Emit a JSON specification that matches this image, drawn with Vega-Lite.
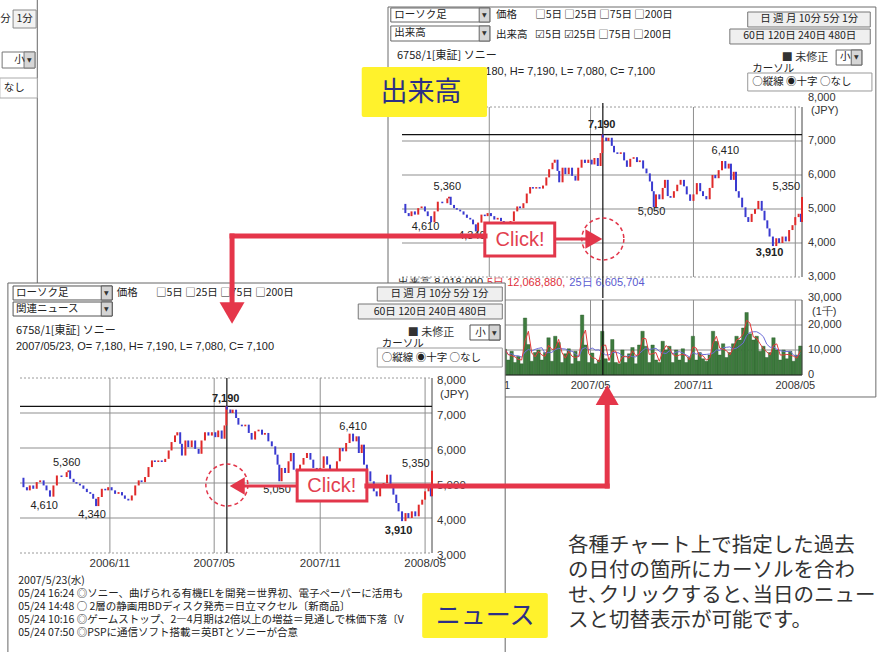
{
"$schema": "https://vega.github.io/schema/vega-lite/v6.json",
"width": 884, "height": 652, "autosize": "none", "padding": 0, "background": "#ffffff",
"config": {"view": {"stroke": null}, "font": "Liberation Sans"},
"datasets": {
 "price": [
  {"d":"2006-05-29","c":5150},{"d":"2006-06-04","c":4880},{"d":"2006-06-10","c":4790},{"d":"2006-06-15","c":4930},{"d":"2006-06-21","c":4835},{"d":"2006-06-27","c":5025},{"d":"2006-07-03","c":5075},{"d":"2006-07-09","c":4930},{"d":"2006-07-14","c":4790},{"d":"2006-07-20","c":4610},{"d":"2006-07-26","c":4930},{"d":"2006-08-01","c":5215},{"d":"2006-08-09","c":5170},{"d":"2006-08-18","c":5310},{"d":"2006-08-21","c":5360},{"d":"2006-08-24","c":5120},{"d":"2006-08-30","c":5025},{"d":"2006-09-04","c":4980},{"d":"2006-09-10","c":4930},{"d":"2006-09-16","c":4835},{"d":"2006-09-22","c":4740},{"d":"2006-09-28","c":4690},{"d":"2006-10-03","c":4550},{"d":"2006-10-08","c":4340},{"d":"2006-10-12","c":4600},{"d":"2006-10-18","c":4835},{"d":"2006-10-24","c":4790},{"d":"2006-10-29","c":4880},{"d":"2006-11-04","c":4790},{"d":"2006-11-10","c":4690},{"d":"2006-11-16","c":4740},{"d":"2006-11-22","c":4645},{"d":"2006-11-27","c":4550},{"d":"2006-12-03","c":4500},{"d":"2006-12-09","c":4645},{"d":"2006-12-15","c":4930},{"d":"2006-12-21","c":5075},{"d":"2006-12-26","c":5025},{"d":"2007-01-01","c":5170},{"d":"2007-01-07","c":5455},{"d":"2007-01-13","c":5645},{"d":"2007-01-18","c":5600},{"d":"2007-01-24","c":5645},{"d":"2007-01-30","c":5600},{"d":"2007-02-05","c":5690},{"d":"2007-02-11","c":5930},{"d":"2007-02-16","c":6170},{"d":"2007-02-22","c":6360},{"d":"2007-02-26","c":6450},{"d":"2007-03-03","c":6120},{"d":"2007-03-06","c":5785},{"d":"2007-03-12","c":6215},{"d":"2007-03-17","c":6025},{"d":"2007-03-23","c":6215},{"d":"2007-03-29","c":5975},{"d":"2007-04-04","c":5835},{"d":"2007-04-09","c":6215},{"d":"2007-04-15","c":6450},{"d":"2007-04-21","c":6355},{"d":"2007-04-27","c":6450},{"d":"2007-05-03","c":6310},{"d":"2007-05-08","c":6500},{"d":"2007-05-14","c":6265},{"d":"2007-05-19","c":6645},{"d":"2007-05-22","c":7190},{"d":"2007-05-23","c":7100},{"d":"2007-05-29","c":7000},{"d":"2007-06-02","c":7095},{"d":"2007-06-08","c":6857},{"d":"2007-06-12","c":6667},{"d":"2007-06-18","c":6620},{"d":"2007-06-24","c":6667},{"d":"2007-06-30","c":6430},{"d":"2007-07-05","c":6240},{"d":"2007-07-11","c":6476},{"d":"2007-07-17","c":6524},{"d":"2007-07-23","c":6380},{"d":"2007-07-28","c":6430},{"d":"2007-08-03","c":6190},{"d":"2007-08-09","c":6048},{"d":"2007-08-15","c":5810},{"d":"2007-08-19","c":5524},{"d":"2007-08-22","c":5050},{"d":"2007-08-26","c":5430},{"d":"2007-09-01","c":5286},{"d":"2007-09-07","c":5620},{"d":"2007-09-11","c":5857},{"d":"2007-09-16","c":5380},{"d":"2007-09-21","c":5330},{"d":"2007-09-27","c":5524},{"d":"2007-10-03","c":5714},{"d":"2007-10-09","c":5857},{"d":"2007-10-15","c":5667},{"d":"2007-10-20","c":5430},{"d":"2007-10-26","c":5240},{"d":"2007-11-01","c":5430},{"d":"2007-11-07","c":5762},{"d":"2007-11-13","c":5524},{"d":"2007-11-18","c":5380},{"d":"2007-11-24","c":5286},{"d":"2007-11-30","c":5620},{"d":"2007-12-05","c":6000},{"d":"2007-12-10","c":5905},{"d":"2007-12-16","c":6143},{"d":"2007-12-22","c":6410},{"d":"2007-12-28","c":6190},{"d":"2008-01-03","c":6333},{"d":"2008-01-07","c":5857},{"d":"2008-01-12","c":6095},{"d":"2008-01-16","c":5524},{"d":"2008-01-21","c":5333},{"d":"2008-01-27","c":5048},{"d":"2008-02-02","c":4762},{"d":"2008-02-07","c":4619},{"d":"2008-02-13","c":4857},{"d":"2008-02-19","c":5000},{"d":"2008-02-25","c":5238},{"d":"2008-03-02","c":4950},{"d":"2008-03-07","c":4667},{"d":"2008-03-12","c":4429},{"d":"2008-03-16","c":4190},{"d":"2008-03-22","c":3910},{"d":"2008-03-28","c":4140},{"d":"2008-04-02","c":4000},{"d":"2008-04-08","c":4190},{"d":"2008-04-14","c":4048},{"d":"2008-04-20","c":4381},{"d":"2008-04-26","c":4524},{"d":"2008-05-01","c":4762},{"d":"2008-05-07","c":4860},{"d":"2008-05-11","c":4619},{"d":"2008-05-13","c":5350}
 ],
 "peaks": [
  {"d":"2006-08-18","v":5360,"k":"high"},{"d":"2007-05-21","v":7190,"k":"max"},{"d":"2007-12-28","v":6410,"k":"high"},{"d":"2008-04-15","v":5350,"k":"high"},
  {"d":"2006-07-10","v":4610,"k":"low"},{"d":"2006-10-01","v":4340,"k":"low"},{"d":"2007-08-18","v":5050,"k":"low"},{"d":"2008-03-16","v":3910,"k":"min"}
 ],
 "vol": [
  {"d":"2006-11-29","v":10300},{"d":"2006-12-05","v":6000},{"d":"2006-12-11","v":9500},{"d":"2006-12-17","v":5000},{"d":"2006-12-23","v":7500},{"d":"2006-12-29","v":4500},{"d":"2007-01-04","v":22800},{"d":"2007-01-10","v":12200},{"d":"2007-01-16","v":5500},{"d":"2007-01-22","v":9000},{"d":"2007-01-28","v":10000},{"d":"2007-02-03","v":6000},{"d":"2007-02-09","v":9000},{"d":"2007-02-15","v":14900},{"d":"2007-02-21","v":5500},{"d":"2007-02-27","v":15500},{"d":"2007-03-05","v":13000},{"d":"2007-03-11","v":5000},{"d":"2007-03-17","v":8500},{"d":"2007-03-23","v":10500},{"d":"2007-03-29","v":4500},{"d":"2007-04-04","v":9500},{"d":"2007-04-10","v":5500},{"d":"2007-04-16","v":24000},{"d":"2007-04-22","v":12000},{"d":"2007-04-28","v":5000},{"d":"2007-05-04","v":8800},{"d":"2007-05-10","v":4500},{"d":"2007-05-16","v":6000},{"d":"2007-05-22","v":17500},{"d":"2007-05-28","v":6500},{"d":"2007-06-03","v":5000},{"d":"2007-06-09","v":14200},{"d":"2007-06-15","v":5000},{"d":"2007-06-21","v":4500},{"d":"2007-06-27","v":10000},{"d":"2007-07-03","v":5000},{"d":"2007-07-09","v":8500},{"d":"2007-07-15","v":11000},{"d":"2007-07-21","v":4500},{"d":"2007-07-27","v":12000},{"d":"2007-08-02","v":17500},{"d":"2007-08-08","v":11500},{"d":"2007-08-14","v":5000},{"d":"2007-08-20","v":12000},{"d":"2007-08-26","v":6000},{"d":"2007-09-01","v":5000},{"d":"2007-09-07","v":13500},{"d":"2007-09-13","v":10000},{"d":"2007-09-19","v":11500},{"d":"2007-09-25","v":5000},{"d":"2007-10-01","v":10000},{"d":"2007-10-07","v":6000},{"d":"2007-10-13","v":10500},{"d":"2007-10-19","v":5000},{"d":"2007-10-25","v":7000},{"d":"2007-10-31","v":15500},{"d":"2007-11-06","v":6000},{"d":"2007-11-12","v":9000},{"d":"2007-11-18","v":6500},{"d":"2007-11-24","v":5500},{"d":"2007-11-30","v":8000},{"d":"2007-12-06","v":17500},{"d":"2007-12-12","v":13500},{"d":"2007-12-18","v":8000},{"d":"2007-12-24","v":12500},{"d":"2007-12-30","v":7000},{"d":"2008-01-05","v":9000},{"d":"2008-01-11","v":12500},{"d":"2008-01-17","v":15500},{"d":"2008-01-23","v":14000},{"d":"2008-01-29","v":18800},{"d":"2008-02-04","v":25000},{"d":"2008-02-10","v":16500},{"d":"2008-02-16","v":14000},{"d":"2008-02-22","v":15500},{"d":"2008-02-28","v":9500},{"d":"2008-03-05","v":11500},{"d":"2008-03-11","v":7000},{"d":"2008-03-17","v":9000},{"d":"2008-03-23","v":14900},{"d":"2008-03-29","v":10000},{"d":"2008-04-04","v":6000},{"d":"2008-04-10","v":10000},{"d":"2008-04-16","v":6500},{"d":"2008-04-22","v":9500},{"d":"2008-04-28","v":5500},{"d":"2008-05-04","v":8000},{"d":"2008-05-10","v":11600}
 ],
 "pticks": [{"p":3000},{"p":4000},{"p":5000},{"p":6000},{"p":7000},{"p":8000}],
 "fdates": [{"d":"2006-11-01","label":"2006/11"},{"d":"2007-05-01","label":"2007/05"},{"d":"2007-11-01","label":"2007/11"},{"d":"2008-05-01","label":"2008/05"}],
 "vdates": [{"d":"2007-05-01","label":"2007/05"},{"d":"2007-11-01","label":"2007/11"},{"d":"2008-05-01","label":"2008/05"}],
 "vticks": [{"v":0},{"v":10000},{"v":20000},{"v":30000}]
},
"resolve": {"scale": {"x": "independent", "y": "independent"}},
"layer": [
 {"layer": [
  {"data":{"values":[{}]},"mark":{"type":"rect","fill":"#ffffff","stroke":"#6d6d6d","strokeWidth":1},"encoding":{"x":{"datum":{"year":2006,"month":5,"date":4,"utc":true},"type":"temporal","axis":null},"x2":{"datum":{"year":2006,"month":5,"date":876,"utc":true}},"y":{"datum":10941,"type":"quantitative","axis":null},"y2":{"datum":-529}}},
  {"data":{"values":[{}]},"mark":{"type":"rect","fill":"#ffffff","stroke":"#666666","strokeWidth":1},"encoding":{"x":{"datum":{"year":2006,"month":5,"date":9,"utc":true},"type":"temporal","axis":null},"x2":{"datum":{"year":2006,"month":5,"date":186,"utc":true}},"y":{"datum":10912,"type":"quantitative","axis":null},"y2":{"datum":10500}}},
  {"data":{"values":[{}]},"mark":{"type":"rect","fill":"#d6d6d6","stroke":"#666666","strokeWidth":1},"encoding":{"x":{"datum":{"year":2006,"month":5,"date":167,"utc":true},"type":"temporal","axis":null},"x2":{"datum":{"year":2006,"month":5,"date":186,"utc":true}},"y":{"datum":10912,"type":"quantitative","axis":null},"y2":{"datum":10500}}},
  {"data":{"values":[{}]},"mark":{"type":"rect","fill":"#ffffff","stroke":"#666666","strokeWidth":1},"encoding":{"x":{"datum":{"year":2006,"month":5,"date":9,"utc":true},"type":"temporal","axis":null},"x2":{"datum":{"year":2006,"month":5,"date":186,"utc":true}},"y":{"datum":10382,"type":"quantitative","axis":null},"y2":{"datum":9941}}},
  {"data":{"values":[{}]},"mark":{"type":"rect","fill":"#d6d6d6","stroke":"#666666","strokeWidth":1},"encoding":{"x":{"datum":{"year":2006,"month":5,"date":167,"utc":true},"type":"temporal","axis":null},"x2":{"datum":{"year":2006,"month":5,"date":186,"utc":true}},"y":{"datum":10382,"type":"quantitative","axis":null},"y2":{"datum":9941}}},
  {"data":{"values":[{}]},"mark":{"type":"rect","fill":"#efefef","stroke":"#777777","strokeWidth":1},"encoding":{"x":{"datum":{"year":2006,"month":5,"date":647,"utc":true},"type":"temporal","axis":null},"x2":{"datum":{"year":2006,"month":5,"date":866,"utc":true}},"y":{"datum":10794,"type":"quantitative","axis":null},"y2":{"datum":10353}}},
  {"data":{"values":[{}]},"mark":{"type":"rect","fill":"#efefef","stroke":"#777777","strokeWidth":1},"encoding":{"x":{"datum":{"year":2006,"month":5,"date":615,"utc":true},"type":"temporal","axis":null},"x2":{"datum":{"year":2006,"month":5,"date":866,"utc":true}},"y":{"datum":10294,"type":"quantitative","axis":null},"y2":{"datum":9853}}},
  {"data":{"values":[{}]},"mark":{"type":"rect","fill":"#ffffff","stroke":"#666666","strokeWidth":1},"encoding":{"x":{"datum":{"year":2006,"month":5,"date":805,"utc":true},"type":"temporal","axis":null},"x2":{"datum":{"year":2006,"month":5,"date":851,"utc":true}},"y":{"datum":9676,"type":"quantitative","axis":null},"y2":{"datum":9235}}},
  {"data":{"values":[{}]},"mark":{"type":"rect","fill":"#d6d6d6","stroke":"#666666","strokeWidth":1},"encoding":{"x":{"datum":{"year":2006,"month":5,"date":832,"utc":true},"type":"temporal","axis":null},"x2":{"datum":{"year":2006,"month":5,"date":851,"utc":true}},"y":{"datum":9676,"type":"quantitative","axis":null},"y2":{"datum":9235}}},
  {"data":{"values":[{}]},"mark":{"type":"rect","fill":"#ffffff","fillOpacity":0,"stroke":"#999999","strokeWidth":1},"encoding":{"x":{"datum":{"year":2006,"month":5,"date":647,"utc":true},"type":"temporal","axis":null},"x2":{"datum":{"year":2006,"month":5,"date":869,"utc":true}},"y":{"datum":9000,"type":"quantitative","axis":null},"y2":{"datum":8471}}},
  {"data":{"values":[{}]},"mark":{"type":"text","text":"ローソク足","align":"left","baseline":"middle","font":"Noto Sans CJK JP","fontSize":10.5,"color":"#222222"},"encoding":{"x":{"datum":{"year":2006,"month":5,"date":15,"utc":true},"type":"temporal","axis":null},"y":{"datum":10706,"type":"quantitative","axis":null}}},
  {"data":{"values":[{}]},"mark":{"type":"text","text":"出来高","align":"left","baseline":"middle","font":"Noto Sans CJK JP","fontSize":10.5,"color":"#222222"},"encoding":{"x":{"datum":{"year":2006,"month":5,"date":15,"utc":true},"type":"temporal","axis":null},"y":{"datum":10162,"type":"quantitative","axis":null}}},
  {"data":{"values":[{}]},"mark":{"type":"text","text":"▼","align":"center","baseline":"middle","font":"DejaVu Sans","fontSize":6,"color":"#333333"},"encoding":{"x":{"datum":{"year":2006,"month":5,"date":176,"utc":true},"type":"temporal","axis":null},"y":{"datum":10706,"type":"quantitative","axis":null}}},
  {"data":{"values":[{}]},"mark":{"type":"text","text":"▼","align":"center","baseline":"middle","font":"DejaVu Sans","fontSize":6,"color":"#333333"},"encoding":{"x":{"datum":{"year":2006,"month":5,"date":176,"utc":true},"type":"temporal","axis":null},"y":{"datum":10162,"type":"quantitative","axis":null}}},
  {"data":{"values":[{}]},"mark":{"type":"text","text":"価格","align":"left","baseline":"middle","font":"Noto Sans CJK JP","fontSize":10.5,"color":"#222222"},"encoding":{"x":{"datum":{"year":2006,"month":5,"date":197,"utc":true},"type":"temporal","axis":null},"y":{"datum":10706,"type":"quantitative","axis":null}}},
  {"data":{"values":[{}]},"mark":{"type":"text","text":"□5日 □25日 □75日 □200日","align":"left","baseline":"middle","font":"Noto Sans CJK JP","fontSize":10.5,"color":"#222222"},"encoding":{"x":{"datum":{"year":2006,"month":5,"date":267,"utc":true},"type":"temporal","axis":null},"y":{"datum":10706,"type":"quantitative","axis":null}}},
  {"data":{"values":[{}]},"mark":{"type":"text","text":"出来高","align":"left","baseline":"middle","font":"Noto Sans CJK JP","fontSize":10.5,"color":"#222222"},"encoding":{"x":{"datum":{"year":2006,"month":5,"date":197,"utc":true},"type":"temporal","axis":null},"y":{"datum":10118,"type":"quantitative","axis":null}}},
  {"data":{"values":[{}]},"mark":{"type":"text","text":"☑5日 ☑25日 □75日 □200日","align":"left","baseline":"middle","font":"Noto Sans CJK JP","fontSize":10.5,"color":"#222222"},"encoding":{"x":{"datum":{"year":2006,"month":5,"date":267,"utc":true},"type":"temporal","axis":null},"y":{"datum":10118,"type":"quantitative","axis":null}}},
  {"data":{"values":[{}]},"mark":{"type":"text","text":"日  週  月  10分  5分  1分","align":"center","baseline":"middle","font":"Noto Sans CJK JP","fontSize":10.5,"color":"#222222"},"encoding":{"x":{"datum":{"year":2006,"month":5,"date":757,"utc":true},"type":"temporal","axis":null},"y":{"datum":10574,"type":"quantitative","axis":null}}},
  {"data":{"values":[{}]},"mark":{"type":"text","text":"60日   120日   240日   480日","align":"center","baseline":"middle","font":"Noto Sans CJK JP","fontSize":10.5,"color":"#222222"},"encoding":{"x":{"datum":{"year":2006,"month":5,"date":740,"utc":true},"type":"temporal","axis":null},"y":{"datum":10074,"type":"quantitative","axis":null}}},
  {"data":{"values":[{}]},"mark":{"type":"text","text":"6758/1[東証]  ソニー","align":"left","baseline":"middle","font":"Noto Sans CJK JP","fontSize":11,"color":"#222222"},"encoding":{"x":{"datum":{"year":2006,"month":5,"date":20,"utc":true},"type":"temporal","axis":null},"y":{"datum":9500,"type":"quantitative","axis":null}}},
  {"data":{"values":[{}]},"mark":{"type":"text","text":"2007/05/23, O= 7,180, H= 7,190, L= 7,080, C= 7,100","align":"left","baseline":"middle","font":"Liberation Sans","fontSize":11,"color":"#222222"},"encoding":{"x":{"datum":{"year":2006,"month":5,"date":20,"utc":true},"type":"temporal","axis":null},"y":{"datum":9029,"type":"quantitative","axis":null}}},
  {"data":{"values":[{}]},"mark":{"type":"text","text":"■ 未修正","align":"left","baseline":"middle","font":"Noto Sans CJK JP","fontSize":11,"color":"#333333"},"encoding":{"x":{"datum":{"year":2006,"month":5,"date":708,"utc":true},"type":"temporal","axis":null},"y":{"datum":9441,"type":"quantitative","axis":null}}},
  {"data":{"values":[{}]},"mark":{"type":"text","text":"小","align":"left","baseline":"middle","font":"Noto Sans CJK JP","fontSize":10.5,"color":"#222222"},"encoding":{"x":{"datum":{"year":2006,"month":5,"date":812,"utc":true},"type":"temporal","axis":null},"y":{"datum":9456,"type":"quantitative","axis":null}}},
  {"data":{"values":[{}]},"mark":{"type":"text","text":"▼","align":"center","baseline":"middle","font":"DejaVu Sans","fontSize":6,"color":"#333333"},"encoding":{"x":{"datum":{"year":2006,"month":5,"date":841,"utc":true},"type":"temporal","axis":null},"y":{"datum":9456,"type":"quantitative","axis":null}}},
  {"data":{"values":[{}]},"mark":{"type":"text","text":"カーソル","align":"left","baseline":"middle","font":"Noto Sans CJK JP","fontSize":10.5,"color":"#222222"},"encoding":{"x":{"datum":{"year":2006,"month":5,"date":655,"utc":true},"type":"temporal","axis":null},"y":{"datum":9118,"type":"quantitative","axis":null}}},
  {"data":{"values":[{}]},"mark":{"type":"text","text":"○縦線 ◉十字 ○なし","align":"left","baseline":"middle","font":"Noto Sans CJK JP","fontSize":10.5,"color":"#222222"},"encoding":{"x":{"datum":{"year":2006,"month":5,"date":655,"utc":true},"type":"temporal","axis":null},"y":{"datum":8735,"type":"quantitative","axis":null}}},
  {"data":{"values":[{"d":"2006-11-01"},{"d":"2007-05-01"},{"d":"2007-11-01"},{"d":"2008-05-01"}]},"mark":{"type":"rule","color":"#8f8f8f","strokeWidth":1},"encoding":{"x":{"field":"d","type":"temporal","axis":null},"y":{"datum":3000,"type":"quantitative","axis":null},"y2":{"datum":8000}}},
  {"data":{"values":[{"p":4000},{"p":5000},{"p":6000},{"p":7000}]},"mark":{"type":"rule","color":"#8f8f8f","strokeWidth":1},"encoding":{"y":{"field":"p","type":"quantitative","axis":null},"x":{"datum":{"year":2006,"month":5,"date":29,"utc":true},"type":"temporal","axis":null},"x2":{"datum":{"year":2006,"month":5,"date":744,"utc":true}}}},
  {"data":{"values":[{"p":3000},{"p":8000}]},"mark":{"type":"rule","color":"#9a9a9a","strokeWidth":1,"strokeDash":[2,2]},"encoding":{"y":{"field":"p","type":"quantitative","axis":null},"x":{"datum":{"year":2006,"month":5,"date":29,"utc":true},"type":"temporal","axis":null},"x2":{"datum":{"year":2006,"month":5,"date":744,"utc":true}}}},
  {"data":{"values":[{}]},"mark":{"type":"rule","color":"#444444","strokeWidth":1},"encoding":{"x":{"datum":{"year":2006,"month":5,"date":744,"utc":true},"type":"temporal","axis":null},"y":{"datum":3000,"type":"quantitative","axis":null},"y2":{"datum":8000}}},
  {"data":{"values":[{}]},"mark":{"type":"rule","color":"#111111","strokeWidth":1.2},"encoding":{"x":{"datum":{"year":2006,"month":5,"date":388,"utc":true},"type":"temporal","axis":null},"y":{"datum":8118,"type":"quantitative","axis":null},"y2":{"datum":2382}}},
  {"data":{"values":[{}]},"mark":{"type":"rule","color":"#111111","strokeWidth":1.2},"encoding":{"y":{"datum":7190,"type":"quantitative","axis":null},"x":{"datum":{"year":2006,"month":5,"date":29,"utc":true},"type":"temporal","axis":null},"x2":{"datum":{"year":2006,"month":5,"date":744,"utc":true}}}},
  {"data":{"name":"price"},"transform":[{"window":[{"op":"lag","field":"c","as":"o"}],"sort":[{"field":"d","order":"ascending"}]}],"mark":{"type":"rule","strokeWidth":2},
   "encoding":{
    "x":{"field":"d","type":"temporal","scale":{"type":"utc","domain":[{"year":2006,"month":5,"date":29,"utc":true},{"year":2008,"month":5,"date":13,"utc":true}],"range":[402,802],"nice":false,"padding":0},"axis":null},
    "y":{"field":"o","type":"quantitative","scale":{"domain":[3000,8000],"range":[277,107],"nice":false,"zero":false},"axis":null},
    "y2":{"field":"c"},
    "color":{"condition":{"test":"datum.c >= datum.o","value":"#e02a2a"},"value":"#3a3ad0"}}},
  {"data":{"name":"pticks"},"transform":[{"filter":"datum.p < 8000"}],"mark":{"type":"text","align":"left","baseline":"middle","dx":6,"font":"Liberation Sans","fontSize":11,"color":"#333333"},"encoding":{"x":{"datum":{"year":2006,"month":5,"date":744,"utc":true},"type":"temporal","axis":null},"y":{"field":"p","type":"quantitative","axis":null},"text":{"field":"p","type":"quantitative","format":","}}},
  {"data":{"name":"pticks"},"transform":[{"filter":"datum.p == 8000"}],"mark":{"type":"text","align":"left","baseline":"middle","dx":6,"dy":-9,"font":"Liberation Sans","fontSize":11,"color":"#333333"},"encoding":{"x":{"datum":{"year":2006,"month":5,"date":744,"utc":true},"type":"temporal","axis":null},"y":{"field":"p","type":"quantitative","axis":null},"text":{"field":"p","type":"quantitative","format":","}}},
  {"data":{"values":[{}]},"mark":{"type":"text","text":"(JPY)","align":"left","baseline":"middle","dx":9,"dy":4,"font":"Liberation Sans","fontSize":11,"color":"#333333"},"encoding":{"x":{"datum":{"year":2006,"month":5,"date":744,"utc":true},"type":"temporal","axis":null},"y":{"datum":8000,"type":"quantitative","axis":null}}},
  {"data":{"name":"peaks"},"transform":[{"filter":"datum.k == 'high'"}],"mark":{"type":"text","dy":-10,"baseline":"middle","font":"Liberation Sans","fontSize":11,"color":"#222222"},"encoding":{"x":{"field":"d","type":"temporal","axis":null},"y":{"field":"v","type":"quantitative","axis":null},"text":{"field":"v","type":"quantitative","format":","}}},
  {"data":{"name":"peaks"},"transform":[{"filter":"datum.k == 'max'"}],"mark":{"type":"text","dy":-10,"baseline":"middle","font":"Liberation Sans","fontSize":11,"fontWeight":"bold","color":"#222222"},"encoding":{"x":{"field":"d","type":"temporal","axis":null},"y":{"field":"v","type":"quantitative","axis":null},"text":{"field":"v","type":"quantitative","format":","}}},
  {"data":{"name":"peaks"},"transform":[{"filter":"datum.k == 'low'"}],"mark":{"type":"text","dy":5,"baseline":"middle","font":"Liberation Sans","fontSize":11,"color":"#222222"},"encoding":{"x":{"field":"d","type":"temporal","axis":null},"y":{"field":"v","type":"quantitative","axis":null},"text":{"field":"v","type":"quantitative","format":","}}},
  {"data":{"name":"peaks"},"transform":[{"filter":"datum.k == 'min'"}],"mark":{"type":"text","dy":7,"baseline":"middle","font":"Liberation Sans","fontSize":11,"fontWeight":"bold","color":"#222222"},"encoding":{"x":{"field":"d","type":"temporal","axis":null},"y":{"field":"v","type":"quantitative","axis":null},"text":{"field":"v","type":"quantitative","format":","}}},
  {"data":{"values":[{}]},"mark":{"type":"text","text":"出来高 8,018,000,","align":"left","baseline":"middle","font":"Liberation Sans","fontSize":11,"color":"#222222"},"encoding":{"x":{"datum":{"year":2006,"month":5,"date":22,"utc":true},"type":"temporal","axis":null},"y":{"datum":2824,"type":"quantitative","axis":null}}},
  {"data":{"values":[{}]},"mark":{"type":"text","text":"5日 12,068,880,","align":"left","baseline":"middle","font":"Liberation Sans","fontSize":11,"color":"#e0303a"},"encoding":{"x":{"datum":{"year":2006,"month":5,"date":181,"utc":true},"type":"temporal","axis":null},"y":{"datum":2824,"type":"quantitative","axis":null}}},
  {"data":{"values":[{}]},"mark":{"type":"text","text":"25日 6,605,704","align":"left","baseline":"middle","font":"Liberation Sans","fontSize":11,"color":"#5a5ad0"},"encoding":{"x":{"datum":{"year":2006,"month":5,"date":328,"utc":true},"type":"temporal","axis":null},"y":{"datum":2824,"type":"quantitative","axis":null}}},
  {"data":{"values":[{}]},"mark":{"type":"rect","fill":"#ffffff","stroke":"#e2364a","strokeWidth":3},"encoding":{"x":{"datum":{"year":2006,"month":5,"date":177,"utc":true},"type":"temporal","axis":null},"x2":{"datum":{"year":2006,"month":5,"date":302,"utc":true}},"y":{"datum":4588,"type":"quantitative","axis":null},"y2":{"datum":3618}}},
  {"data":{"values":[{}]},"mark":{"type":"text","text":"Click!","align":"center","baseline":"middle","font":"Liberation Sans","fontSize":20,"color":"#e2404f"},"encoding":{"x":{"datum":{"year":2006,"month":5,"date":240,"utc":true},"type":"temporal","axis":null},"y":{"datum":4088,"type":"quantitative","axis":null}}},
  {"data":{"values":[{}]},"mark":{"type":"point","shape":"circle","filled":false,"size":1764,"stroke":"#e2364a","strokeWidth":1.5,"strokeDash":[4,3],"opacity":1},"encoding":{"x":{"datum":{"year":2006,"month":5,"date":388,"utc":true},"type":"temporal","axis":null},"y":{"datum":4118,"type":"quantitative","axis":null}}},
  {"data":{"values":[{}]},"mark":{"type":"rule","color":"#e2364a","strokeWidth":3},"encoding":{"y":{"datum":4118,"type":"quantitative","axis":null},"x":{"datum":{"year":2006,"month":5,"date":302,"utc":true},"type":"temporal","axis":null},"x2":{"datum":{"year":2006,"month":5,"date":369,"utc":true}}}},
  {"data":{"values":[{}]},"mark":{"type":"point","shape":"triangle-right","filled":true,"size":385,"color":"#e2364a","opacity":1,"strokeWidth":0},"encoding":{"x":{"datum":{"year":2006,"month":5,"date":372,"utc":true},"type":"temporal","axis":null},"y":{"datum":4118,"type":"quantitative","axis":null}}},
  {"data":{"values":[{}]},"mark":{"type":"rect","fill":"#fff22c","cornerRadius":2},"encoding":{"x":{"datum":{"year":2006,"month":5,"date":-43,"utc":true},"type":"temporal","axis":null},"x2":{"datum":{"year":2006,"month":5,"date":181,"utc":true}},"y":{"datum":9176,"type":"quantitative","axis":null},"y2":{"datum":7706}}},
  {"data":{"values":[{}]},"mark":{"type":"text","text":"出来高","align":"center","baseline":"middle","font":"Noto Sans CJK JP","fontSize":27,"color":"#2c2f86"},"encoding":{"x":{"datum":{"year":2006,"month":5,"date":63,"utc":true},"type":"temporal","axis":null},"y":{"datum":8412,"type":"quantitative","axis":null}}}
 ]},
 {"layer": [
  {"data":{"values":[{"d":"2007-05-01"},{"d":"2007-11-01"},{"d":"2008-05-01"}]},"mark":{"type":"rule","color":"#8f8f8f","strokeWidth":1},"encoding":{"x":{"field":"d","type":"temporal","axis":null},"y":{"datum":0,"type":"quantitative","axis":null},"y2":{"datum":30000}}},
  {"data":{"values":[{"p":10000},{"p":20000},{"p":30000}]},"mark":{"type":"rule","color":"#8f8f8f","strokeWidth":1},"encoding":{"y":{"field":"p","type":"quantitative","axis":null},"x":{"datum":{"year":2006,"month":5,"date":213,"utc":true},"type":"temporal","axis":null},"x2":{"datum":{"year":2006,"month":5,"date":744,"utc":true}}}},
  {"data":{"name":"vol"},"mark":{"type":"bar","width":3.4,"color":"#3e7b3e","stroke":"#2b5a2b","strokeWidth":0.4},
   "encoding":{
    "x":{"field":"d","type":"temporal","scale":{"type":"utc","domain":[{"year":2006,"month":11,"date":29,"utc":true},{"year":2008,"month":5,"date":13,"utc":true}],"range":[504.9,802],"nice":false,"padding":0},"axis":null},
    "y":{"field":"v","type":"quantitative","scale":{"domain":[0,30000],"range":[375,300],"nice":false,"zero":false},"axis":null}}},
  {"data":{"name":"vol"},"transform":[{"window":[{"op":"mean","field":"v","as":"m"}],"frame":[-5,0],"sort":[{"field":"d"}]}],"mark":{"type":"line","color":"#6c6cd8","strokeWidth":1},"encoding":{"x":{"field":"d","type":"temporal","axis":null},"y":{"field":"m","type":"quantitative","axis":null}}},
  {"data":{"name":"vol"},"transform":[{"window":[{"op":"mean","field":"v","as":"m"}],"frame":[-1,0],"sort":[{"field":"d"}]}],"mark":{"type":"line","color":"#e23a3a","strokeWidth":1},"encoding":{"x":{"field":"d","type":"temporal","axis":null},"y":{"field":"m","type":"quantitative","axis":null}}},
  {"data":{"values":[{}]},"mark":{"type":"rule","color":"#222222","strokeWidth":1.2},"encoding":{"y":{"datum":0,"type":"quantitative","axis":null},"x":{"datum":{"year":2006,"month":5,"date":213,"utc":true},"type":"temporal","axis":null},"x2":{"datum":{"year":2006,"month":5,"date":744,"utc":true}}}},
  {"data":{"values":[{}]},"mark":{"type":"rule","color":"#444444","strokeWidth":1},"encoding":{"x":{"datum":{"year":2006,"month":5,"date":744,"utc":true},"type":"temporal","axis":null},"y":{"datum":0,"type":"quantitative","axis":null},"y2":{"datum":30000}}},
  {"data":{"values":[{}]},"mark":{"type":"rule","color":"#111111","strokeWidth":1.2},"encoding":{"x":{"datum":{"year":2006,"month":5,"date":388,"utc":true},"type":"temporal","axis":null},"y":{"datum":0,"type":"quantitative","axis":null},"y2":{"datum":30000}}},
  {"data":{"name":"vticks"},"transform":[{"filter":"datum.v < 30000"}],"mark":{"type":"text","align":"left","baseline":"middle","dx":6,"font":"Liberation Sans","fontSize":11,"color":"#333333"},"encoding":{"x":{"datum":{"year":2006,"month":5,"date":744,"utc":true},"type":"temporal","axis":null},"y":{"field":"v","type":"quantitative","axis":null},"text":{"field":"v","type":"quantitative","format":","}}},
  {"data":{"name":"vticks"},"transform":[{"filter":"datum.v == 30000"}],"mark":{"type":"text","align":"left","baseline":"middle","dx":6,"dy":-2,"font":"Liberation Sans","fontSize":11,"color":"#333333"},"encoding":{"x":{"datum":{"year":2006,"month":5,"date":744,"utc":true},"type":"temporal","axis":null},"y":{"field":"v","type":"quantitative","axis":null},"text":{"field":"v","type":"quantitative","format":","}}},
  {"data":{"values":[{}]},"mark":{"type":"text","text":"(1千)","align":"left","baseline":"middle","dx":10,"dy":12,"font":"Liberation Sans","fontSize":11,"color":"#333333"},"encoding":{"x":{"datum":{"year":2006,"month":5,"date":744,"utc":true},"type":"temporal","axis":null},"y":{"datum":30000,"type":"quantitative","axis":null}}},
  {"data":{"name":"vdates"},"mark":{"type":"text","align":"center","baseline":"middle","dy":11,"font":"Liberation Sans","fontSize":11,"color":"#333333"},"encoding":{"x":{"field":"d","type":"temporal","axis":null},"y":{"datum":0,"type":"quantitative","axis":null},"text":{"field":"label","type":"nominal"}}},
  {"data":{"values":[{}]},"mark":{"type":"text","text":"1","align":"center","baseline":"middle","dy":11,"font":"Liberation Sans","fontSize":11,"color":"#333333"},"encoding":{"x":{"datum":{"year":2006,"month":5,"date":217,"utc":true},"type":"temporal","axis":null},"y":{"datum":0,"type":"quantitative","axis":null}}}
 ]},
 {"layer": [
  {"data":{"values":[{}]},"mark":{"type":"rect","fill":"#ffffff","stroke":"#666666","strokeWidth":1},"encoding":{"x":{"datum":{"year":2006,"month":5,"date":8,"utc":true},"type":"temporal","axis":null},"x2":{"datum":{"year":2006,"month":5,"date":871,"utc":true}},"y":{"datum":10714,"type":"quantitative","axis":null},"y2":{"datum":-100}}},
  {"data":{"values":[{}]},"mark":{"type":"rule","color":"#666666","strokeWidth":1},"encoding":{"x":{"datum":{"year":2006,"month":5,"date":59,"utc":true},"type":"temporal","axis":null},"y":{"datum":18800,"type":"quantitative","axis":null},"y2":{"datum":10714}}},
  {"data":{"values":[{}]},"mark":{"type":"rect","fill":"#f2f2f2","stroke":"#888888","strokeWidth":1},"encoding":{"x":{"datum":{"year":2006,"month":5,"date":17,"utc":true},"type":"temporal","axis":null},"x2":{"datum":{"year":2006,"month":5,"date":57,"utc":true}},"y":{"datum":18514,"type":"quantitative","axis":null},"y2":{"datum":18000}}},
  {"data":{"values":[{}]},"mark":{"type":"text","text":"1分","align":"center","baseline":"middle","font":"Noto Sans CJK JP","fontSize":10.5,"color":"#222222"},"encoding":{"x":{"datum":{"year":2006,"month":5,"date":37,"utc":true},"type":"temporal","axis":null},"y":{"datum":18257,"type":"quantitative","axis":null}}},
  {"data":{"values":[{}]},"mark":{"type":"text","text":"分","align":"right","baseline":"middle","font":"Noto Sans CJK JP","fontSize":10.5,"color":"#222222"},"encoding":{"x":{"datum":{"year":2006,"month":5,"date":13,"utc":true},"type":"temporal","axis":null},"y":{"datum":18257,"type":"quantitative","axis":null}}},
  {"data":{"values":[{}]},"mark":{"type":"rect","fill":"#ffffff","stroke":"#777777","strokeWidth":1},"encoding":{"x":{"datum":{"year":2006,"month":5,"date":-2,"utc":true},"type":"temporal","axis":null},"x2":{"datum":{"year":2006,"month":5,"date":55,"utc":true}},"y":{"datum":17314,"type":"quantitative","axis":null},"y2":{"datum":16857}}},
  {"data":{"values":[{}]},"mark":{"type":"rect","fill":"#d6d6d6","stroke":"#777777","strokeWidth":1},"encoding":{"x":{"datum":{"year":2006,"month":5,"date":36,"utc":true},"type":"temporal","axis":null},"x2":{"datum":{"year":2006,"month":5,"date":55,"utc":true}},"y":{"datum":17314,"type":"quantitative","axis":null},"y2":{"datum":16857}}},
  {"data":{"values":[{}]},"mark":{"type":"text","text":"小","align":"left","baseline":"middle","font":"Noto Sans CJK JP","fontSize":10.5,"color":"#222222"},"encoding":{"x":{"datum":{"year":2006,"month":5,"date":19,"utc":true},"type":"temporal","axis":null},"y":{"datum":17086,"type":"quantitative","axis":null}}},
  {"data":{"values":[{}]},"mark":{"type":"text","text":"▼","align":"center","baseline":"middle","font":"DejaVu Sans","fontSize":6,"color":"#333333"},"encoding":{"x":{"datum":{"year":2006,"month":5,"date":45,"utc":true},"type":"temporal","axis":null},"y":{"datum":17086,"type":"quantitative","axis":null}}},
  {"data":{"values":[{}]},"mark":{"type":"rect","fill":"#ffffff","stroke":"#aaaaaa","strokeWidth":1},"encoding":{"x":{"datum":{"year":2006,"month":5,"date":-6,"utc":true},"type":"temporal","axis":null},"x2":{"datum":{"year":2006,"month":5,"date":59,"utc":true}},"y":{"datum":16571,"type":"quantitative","axis":null},"y2":{"datum":16000}}},
  {"data":{"values":[{}]},"mark":{"type":"text","text":"なし","align":"left","baseline":"middle","font":"Noto Sans CJK JP","fontSize":10.5,"color":"#222222"},"encoding":{"x":{"datum":{"year":2006,"month":5,"date":1,"utc":true},"type":"temporal","axis":null},"y":{"datum":16286,"type":"quantitative","axis":null}}},
  {"data":{"values":[{}]},"mark":{"type":"rect","fill":"#ffffff","stroke":"#555555","strokeWidth":1},"encoding":{"x":{"datum":{"year":2006,"month":5,"date":17,"utc":true},"type":"temporal","axis":null},"x2":{"datum":{"year":2006,"month":5,"date":189,"utc":true}},"y":{"datum":10629,"type":"quantitative","axis":null},"y2":{"datum":10229}}},
  {"data":{"values":[{}]},"mark":{"type":"rect","fill":"#d4d4d4","stroke":"#555555","strokeWidth":1},"encoding":{"x":{"datum":{"year":2006,"month":5,"date":170,"utc":true},"type":"temporal","axis":null},"x2":{"datum":{"year":2006,"month":5,"date":189,"utc":true}},"y":{"datum":10629,"type":"quantitative","axis":null},"y2":{"datum":10229}}},
  {"data":{"values":[{}]},"mark":{"type":"rect","fill":"#ffffff","stroke":"#555555","strokeWidth":1},"encoding":{"x":{"datum":{"year":2006,"month":5,"date":17,"utc":true},"type":"temporal","axis":null},"x2":{"datum":{"year":2006,"month":5,"date":189,"utc":true}},"y":{"datum":10171,"type":"quantitative","axis":null},"y2":{"datum":9771}}},
  {"data":{"values":[{}]},"mark":{"type":"rect","fill":"#d4d4d4","stroke":"#555555","strokeWidth":1},"encoding":{"x":{"datum":{"year":2006,"month":5,"date":170,"utc":true},"type":"temporal","axis":null},"x2":{"datum":{"year":2006,"month":5,"date":189,"utc":true}},"y":{"datum":10171,"type":"quantitative","axis":null},"y2":{"datum":9771}}},
  {"data":{"values":[{}]},"mark":{"type":"text","text":"ローソク足","align":"left","baseline":"middle","font":"Noto Sans CJK JP","fontSize":10.5,"color":"#222222"},"encoding":{"x":{"datum":{"year":2006,"month":5,"date":22,"utc":true},"type":"temporal","axis":null},"y":{"datum":10429,"type":"quantitative","axis":null}}},
  {"data":{"values":[{}]},"mark":{"type":"text","text":"関連ニュース","align":"left","baseline":"middle","font":"Noto Sans CJK JP","fontSize":10.5,"color":"#222222"},"encoding":{"x":{"datum":{"year":2006,"month":5,"date":22,"utc":true},"type":"temporal","axis":null},"y":{"datum":9971,"type":"quantitative","axis":null}}},
  {"data":{"values":[{}]},"mark":{"type":"text","text":"▼","align":"center","baseline":"middle","font":"DejaVu Sans","fontSize":6,"color":"#333333"},"encoding":{"x":{"datum":{"year":2006,"month":5,"date":179,"utc":true},"type":"temporal","axis":null},"y":{"datum":10429,"type":"quantitative","axis":null}}},
  {"data":{"values":[{}]},"mark":{"type":"text","text":"▼","align":"center","baseline":"middle","font":"DejaVu Sans","fontSize":6,"color":"#333333"},"encoding":{"x":{"datum":{"year":2006,"month":5,"date":179,"utc":true},"type":"temporal","axis":null},"y":{"datum":9971,"type":"quantitative","axis":null}}},
  {"data":{"values":[{}]},"mark":{"type":"text","text":"価格","align":"left","baseline":"middle","font":"Noto Sans CJK JP","fontSize":10.5,"color":"#222222"},"encoding":{"x":{"datum":{"year":2006,"month":5,"date":197,"utc":true},"type":"temporal","axis":null},"y":{"datum":10429,"type":"quantitative","axis":null}}},
  {"data":{"values":[{}]},"mark":{"type":"text","text":"□5日 □25日 □75日 □200日","align":"left","baseline":"middle","font":"Noto Sans CJK JP","fontSize":10.5,"color":"#222222"},"encoding":{"x":{"datum":{"year":2006,"month":5,"date":265,"utc":true},"type":"temporal","axis":null},"y":{"datum":10429,"type":"quantitative","axis":null}}},
  {"data":{"values":[{}]},"mark":{"type":"rect","fill":"#efefef","stroke":"#777777","strokeWidth":1},"encoding":{"x":{"datum":{"year":2006,"month":5,"date":649,"utc":true},"type":"temporal","axis":null},"x2":{"datum":{"year":2006,"month":5,"date":866,"utc":true}},"y":{"datum":10600,"type":"quantitative","axis":null},"y2":{"datum":10200}}},
  {"data":{"values":[{}]},"mark":{"type":"text","text":"日  週  月  10分  5分  1分","align":"center","baseline":"middle","font":"Noto Sans CJK JP","fontSize":10.5,"color":"#222222"},"encoding":{"x":{"datum":{"year":2006,"month":5,"date":757,"utc":true},"type":"temporal","axis":null},"y":{"datum":10400,"type":"quantitative","axis":null}}},
  {"data":{"values":[{}]},"mark":{"type":"rect","fill":"#efefef","stroke":"#777777","strokeWidth":1},"encoding":{"x":{"datum":{"year":2006,"month":5,"date":616,"utc":true},"type":"temporal","axis":null},"x2":{"datum":{"year":2006,"month":5,"date":866,"utc":true}},"y":{"datum":10114,"type":"quantitative","axis":null},"y2":{"datum":9686}}},
  {"data":{"values":[{}]},"mark":{"type":"text","text":"60日   120日   240日   480日","align":"center","baseline":"middle","font":"Noto Sans CJK JP","fontSize":10.5,"color":"#222222"},"encoding":{"x":{"datum":{"year":2006,"month":5,"date":741,"utc":true},"type":"temporal","axis":null},"y":{"datum":9900,"type":"quantitative","axis":null}}},
  {"data":{"values":[{}]},"mark":{"type":"text","text":"6758/1[東証]  ソニー","align":"left","baseline":"middle","font":"Noto Sans CJK JP","fontSize":11,"color":"#222222"},"encoding":{"x":{"datum":{"year":2006,"month":5,"date":22,"utc":true},"type":"temporal","axis":null},"y":{"datum":9343,"type":"quantitative","axis":null}}},
  {"data":{"values":[{}]},"mark":{"type":"text","text":"2007/05/23, O= 7,180, H= 7,190, L= 7,080, C= 7,100","align":"left","baseline":"middle","font":"Liberation Sans","fontSize":11,"color":"#222222"},"encoding":{"x":{"datum":{"year":2006,"month":5,"date":22,"utc":true},"type":"temporal","axis":null},"y":{"datum":8886,"type":"quantitative","axis":null}}},
  {"data":{"values":[{}]},"mark":{"type":"text","text":"■ 未修正","align":"left","baseline":"middle","font":"Noto Sans CJK JP","fontSize":11,"color":"#333333"},"encoding":{"x":{"datum":{"year":2006,"month":5,"date":702,"utc":true},"type":"temporal","axis":null},"y":{"datum":9286,"type":"quantitative","axis":null}}},
  {"data":{"values":[{}]},"mark":{"type":"rect","fill":"#ffffff","stroke":"#555555","strokeWidth":1},"encoding":{"x":{"datum":{"year":2006,"month":5,"date":810,"utc":true},"type":"temporal","axis":null},"x2":{"datum":{"year":2006,"month":5,"date":862,"utc":true}},"y":{"datum":9514,"type":"quantitative","axis":null},"y2":{"datum":9086}}},
  {"data":{"values":[{}]},"mark":{"type":"rect","fill":"#d4d4d4","stroke":"#555555","strokeWidth":1},"encoding":{"x":{"datum":{"year":2006,"month":5,"date":843,"utc":true},"type":"temporal","axis":null},"x2":{"datum":{"year":2006,"month":5,"date":862,"utc":true}},"y":{"datum":9514,"type":"quantitative","axis":null},"y2":{"datum":9086}}},
  {"data":{"values":[{}]},"mark":{"type":"text","text":"小","align":"left","baseline":"middle","font":"Noto Sans CJK JP","fontSize":10.5,"color":"#222222"},"encoding":{"x":{"datum":{"year":2006,"month":5,"date":819,"utc":true},"type":"temporal","axis":null},"y":{"datum":9300,"type":"quantitative","axis":null}}},
  {"data":{"values":[{}]},"mark":{"type":"text","text":"▼","align":"center","baseline":"middle","font":"DejaVu Sans","fontSize":6,"color":"#333333"},"encoding":{"x":{"datum":{"year":2006,"month":5,"date":852,"utc":true},"type":"temporal","axis":null},"y":{"datum":9300,"type":"quantitative","axis":null}}},
  {"data":{"values":[{}]},"mark":{"type":"text","text":"カーソル","align":"left","baseline":"middle","font":"Noto Sans CJK JP","fontSize":10.5,"color":"#222222"},"encoding":{"x":{"datum":{"year":2006,"month":5,"date":657,"utc":true},"type":"temporal","axis":null},"y":{"datum":8971,"type":"quantitative","axis":null}}},
  {"data":{"values":[{}]},"mark":{"type":"rect","fill":"#ffffff","fillOpacity":0,"stroke":"#999999","strokeWidth":1},"encoding":{"x":{"datum":{"year":2006,"month":5,"date":649,"utc":true},"type":"temporal","axis":null},"x2":{"datum":{"year":2006,"month":5,"date":866,"utc":true}},"y":{"datum":8857,"type":"quantitative","axis":null},"y2":{"datum":8314}}},
  {"data":{"values":[{}]},"mark":{"type":"text","text":"○縦線 ◉十字 ○なし","align":"left","baseline":"middle","font":"Noto Sans CJK JP","fontSize":10.5,"color":"#222222"},"encoding":{"x":{"datum":{"year":2006,"month":5,"date":657,"utc":true},"type":"temporal","axis":null},"y":{"datum":8571,"type":"quantitative","axis":null}}},
  {"data":{"values":[{"d":"2006-11-01"},{"d":"2007-05-01"},{"d":"2007-11-01"},{"d":"2008-05-01"}]},"mark":{"type":"rule","color":"#8f8f8f","strokeWidth":1},"encoding":{"x":{"field":"d","type":"temporal","axis":null},"y":{"datum":3000,"type":"quantitative","axis":null},"y2":{"datum":8000}}},
  {"data":{"values":[{"p":4000},{"p":5000},{"p":6000},{"p":7000}]},"mark":{"type":"rule","color":"#8f8f8f","strokeWidth":1},"encoding":{"y":{"field":"p","type":"quantitative","axis":null},"x":{"datum":{"year":2006,"month":5,"date":29,"utc":true},"type":"temporal","axis":null},"x2":{"datum":{"year":2006,"month":5,"date":744,"utc":true}}}},
  {"data":{"values":[{"p":3000},{"p":8000}]},"mark":{"type":"rule","color":"#9a9a9a","strokeWidth":1,"strokeDash":[2,2]},"encoding":{"y":{"field":"p","type":"quantitative","axis":null},"x":{"datum":{"year":2006,"month":5,"date":29,"utc":true},"type":"temporal","axis":null},"x2":{"datum":{"year":2006,"month":5,"date":744,"utc":true}}}},
  {"data":{"values":[{}]},"mark":{"type":"rule","color":"#444444","strokeWidth":1},"encoding":{"x":{"datum":{"year":2006,"month":5,"date":744,"utc":true},"type":"temporal","axis":null},"y":{"datum":3000,"type":"quantitative","axis":null},"y2":{"datum":8000}}},
  {"data":{"values":[{}]},"mark":{"type":"rule","color":"#111111","strokeWidth":1.2},"encoding":{"x":{"datum":{"year":2006,"month":5,"date":388,"utc":true},"type":"temporal","axis":null},"y":{"datum":3000,"type":"quantitative","axis":null},"y2":{"datum":8000}}},
  {"data":{"values":[{}]},"mark":{"type":"rule","color":"#111111","strokeWidth":1.2},"encoding":{"y":{"datum":7190,"type":"quantitative","axis":null},"x":{"datum":{"year":2006,"month":5,"date":29,"utc":true},"type":"temporal","axis":null},"x2":{"datum":{"year":2006,"month":5,"date":744,"utc":true}}}},
  {"data":{"name":"price"},"transform":[{"window":[{"op":"lag","field":"c","as":"o"}],"sort":[{"field":"d","order":"ascending"}]}],"mark":{"type":"rule","strokeWidth":2},
   "encoding":{
    "x":{"field":"d","type":"temporal","scale":{"type":"utc","domain":[{"year":2006,"month":5,"date":29,"utc":true},{"year":2008,"month":5,"date":13,"utc":true}],"range":[20,432],"nice":false,"padding":0},"axis":null},
    "y":{"field":"o","type":"quantitative","scale":{"domain":[3000,8000],"range":[553,378],"nice":false,"zero":false},"axis":null},
    "y2":{"field":"c"},
    "color":{"condition":{"test":"datum.c >= datum.o","value":"#e02a2a"},"value":"#3a3ad0"}}},
  {"data":{"name":"pticks"},"mark":{"type":"text","align":"left","baseline":"middle","dx":5,"dy":3,"font":"Liberation Sans","fontSize":11.5,"color":"#333333"},"encoding":{"x":{"datum":{"year":2006,"month":5,"date":744,"utc":true},"type":"temporal","axis":null},"y":{"field":"p","type":"quantitative","axis":null},"text":{"field":"p","type":"quantitative","format":","}}},
  {"data":{"name":"fdates"},"mark":{"type":"text","align":"center","baseline":"middle","dy":11,"font":"Liberation Sans","fontSize":11.5,"color":"#333333"},"encoding":{"x":{"field":"d","type":"temporal","axis":null},"y":{"datum":3000,"type":"quantitative","axis":null},"text":{"field":"label","type":"nominal"}}},
  {"data":{"name":"peaks"},"transform":[{"filter":"datum.k == 'high'"}],"mark":{"type":"text","dy":-7,"baseline":"middle","font":"Liberation Sans","fontSize":11,"color":"#222222"},"encoding":{"x":{"field":"d","type":"temporal","axis":null},"y":{"field":"v","type":"quantitative","axis":null},"text":{"field":"v","type":"quantitative","format":","}}},
  {"data":{"name":"peaks"},"transform":[{"filter":"datum.k == 'max'"}],"mark":{"type":"text","dy":-7,"baseline":"middle","font":"Liberation Sans","fontSize":11,"fontWeight":"bold","color":"#222222"},"encoding":{"x":{"field":"d","type":"temporal","axis":null},"y":{"field":"v","type":"quantitative","axis":null},"text":{"field":"v","type":"quantitative","format":","}}},
  {"data":{"name":"peaks"},"transform":[{"filter":"datum.k == 'low'"}],"mark":{"type":"text","dy":9,"baseline":"middle","font":"Liberation Sans","fontSize":11,"color":"#222222"},"encoding":{"x":{"field":"d","type":"temporal","axis":null},"y":{"field":"v","type":"quantitative","axis":null},"text":{"field":"v","type":"quantitative","format":","}}},
  {"data":{"name":"peaks"},"transform":[{"filter":"datum.k == 'min'"}],"mark":{"type":"text","dy":10,"baseline":"middle","font":"Liberation Sans","fontSize":11,"fontWeight":"bold","color":"#222222"},"encoding":{"x":{"field":"d","type":"temporal","axis":null},"y":{"field":"v","type":"quantitative","axis":null},"text":{"field":"v","type":"quantitative","format":","}}},
  {"data":{"values":[{}]},"mark":{"type":"text","text":"(JPY)","align":"left","baseline":"middle","font":"Liberation Sans","fontSize":11.5,"color":"#333333"},"encoding":{"x":{"datum":{"year":2006,"month":5,"date":758,"utc":true},"type":"temporal","axis":null},"y":{"datum":7514,"type":"quantitative","axis":null}}},
  {"data":{"values":[{}]},"mark":{"type":"text","text":["2007/5/23(水)","05/24 16:24 ◎ソニー、曲げられる有機ELを開発＝世界初、電子ペーパーに活用も","05/24 14:48 ○ 2層の静画用BDディスク発売＝日立マクセル〔新商品〕","05/24 10:16 ◎ゲームストップ、2―4月期は2倍以上の増益＝見通しで株価下落〔V","05/24 07:50 ◎PSPに通信ソフト搭載＝英BTとソニーが合意"],"align":"left","baseline":"top","lineHeight":13,"font":"Noto Sans CJK JP","fontSize":10.5,"color":"#222222"},"encoding":{"x":{"datum":{"year":2006,"month":5,"date":26,"utc":true},"type":"temporal","axis":null},"y":{"datum":2343,"type":"quantitative","axis":null}}},
  {"data":{"values":[{}]},"mark":{"type":"rect","fill":"#ffffff","stroke":"#e2364a","strokeWidth":3},"encoding":{"x":{"datum":{"year":2006,"month":5,"date":510,"utc":true},"type":"temporal","axis":null},"x2":{"datum":{"year":2006,"month":5,"date":631,"utc":true}},"y":{"datum":5371,"type":"quantitative","axis":null},"y2":{"datum":4486}}},
  {"data":{"values":[{}]},"mark":{"type":"text","text":"Click!","align":"center","baseline":"middle","font":"Liberation Sans","fontSize":20,"color":"#e2404f"},"encoding":{"x":{"datum":{"year":2006,"month":5,"date":570,"utc":true},"type":"temporal","axis":null},"y":{"datum":4914,"type":"quantitative","axis":null}}},
  {"data":{"values":[{}]},"mark":{"type":"point","shape":"circle","filled":false,"size":1764,"stroke":"#e2364a","strokeWidth":1.5,"strokeDash":[4,3],"opacity":1},"encoding":{"x":{"datum":{"year":2006,"month":5,"date":388,"utc":true},"type":"temporal","axis":null},"y":{"datum":4943,"type":"quantitative","axis":null}}},
  {"data":{"values":[{}]},"mark":{"type":"rule","color":"#e2364a","strokeWidth":3},"encoding":{"y":{"datum":4914,"type":"quantitative","axis":null},"x":{"datum":{"year":2006,"month":5,"date":411,"utc":true},"type":"temporal","axis":null},"x2":{"datum":{"year":2006,"month":5,"date":510,"utc":true}}}},
  {"data":{"values":[{}]},"mark":{"type":"point","shape":"triangle-left","filled":true,"size":300,"color":"#e2364a","opacity":1,"strokeWidth":0},"encoding":{"x":{"datum":{"year":2006,"month":5,"date":406,"utc":true},"type":"temporal","axis":null},"y":{"datum":4914,"type":"quantitative","axis":null}}},
  {"data":{"values":[{}]},"mark":{"type":"rule","color":"#e5364a","strokeWidth":5,"strokeCap":"square"},"encoding":{"y":{"datum":4914,"type":"quantitative","axis":null},"x":{"datum":{"year":2006,"month":5,"date":631,"utc":true},"type":"temporal","axis":null},"x2":{"datum":{"year":2006,"month":5,"date":1048,"utc":true}}}},
  {"data":{"values":[{}]},"mark":{"type":"rule","color":"#e5364a","strokeWidth":5,"strokeCap":"square"},"encoding":{"x":{"datum":{"year":2006,"month":5,"date":1048,"utc":true},"type":"temporal","axis":null},"y":{"datum":4914,"type":"quantitative","axis":null},"y2":{"datum":7314}}},
  {"data":{"values":[{}]},"mark":{"type":"point","shape":"triangle-up","filled":true,"size":530,"color":"#e5364a","opacity":1,"strokeWidth":0},"encoding":{"x":{"datum":{"year":2006,"month":5,"date":1048,"utc":true},"type":"temporal","axis":null},"y":{"datum":7514,"type":"quantitative","axis":null}}},
  {"data":{"values":[{}]},"mark":{"type":"rule","color":"#e5364a","strokeWidth":5,"strokeCap":"square"},"encoding":{"y":{"datum":12057,"type":"quantitative","axis":null},"x":{"datum":{"year":2006,"month":5,"date":397,"utc":true},"type":"temporal","axis":null},"x2":{"datum":{"year":2006,"month":5,"date":836,"utc":true}}}},
  {"data":{"values":[{}]},"mark":{"type":"rule","color":"#e5364a","strokeWidth":5,"strokeCap":"square"},"encoding":{"x":{"datum":{"year":2006,"month":5,"date":397,"utc":true},"type":"temporal","axis":null},"y":{"datum":12057,"type":"quantitative","axis":null},"y2":{"datum":10114}}},
  {"data":{"values":[{}]},"mark":{"type":"point","shape":"triangle-down","filled":true,"size":625,"color":"#e5364a","opacity":1,"strokeWidth":0},"encoding":{"x":{"datum":{"year":2006,"month":5,"date":397,"utc":true},"type":"temporal","axis":null},"y":{"datum":9857,"type":"quantitative","axis":null}}},
  {"data":{"values":[{}]},"mark":{"type":"rect","fill":"#fff22c","cornerRadius":2},"encoding":{"x":{"datum":{"year":2006,"month":5,"date":727,"utc":true},"type":"temporal","axis":null},"x2":{"datum":{"year":2006,"month":5,"date":945,"utc":true}},"y":{"datum":1857,"type":"quantitative","axis":null},"y2":{"datum":571}}},
  {"data":{"values":[{}]},"mark":{"type":"text","text":"ニュース","align":"center","baseline":"middle","font":"Noto Sans CJK JP","fontSize":25,"color":"#2c2f86"},"encoding":{"x":{"datum":{"year":2006,"month":5,"date":836,"utc":true},"type":"temporal","axis":null},"y":{"datum":1200,"type":"quantitative","axis":null}}},
  {"data":{"values":[{}]},"mark":{"type":"text","text":["各種チャート上で指定した過去","の日付の箇所にカーソルを合わ","せ､クリックすると､当日のニュー","スと切替表示が可能です。"],"align":"left","baseline":"top","lineHeight":25,"font":"Noto Sans CJK JP","fontSize":20.5,"color":"#333333"},"encoding":{"x":{"datum":{"year":2006,"month":5,"date":980,"utc":true},"type":"temporal","axis":null},"y":{"datum":3486,"type":"quantitative","axis":null}}}
 ]}
]
}
